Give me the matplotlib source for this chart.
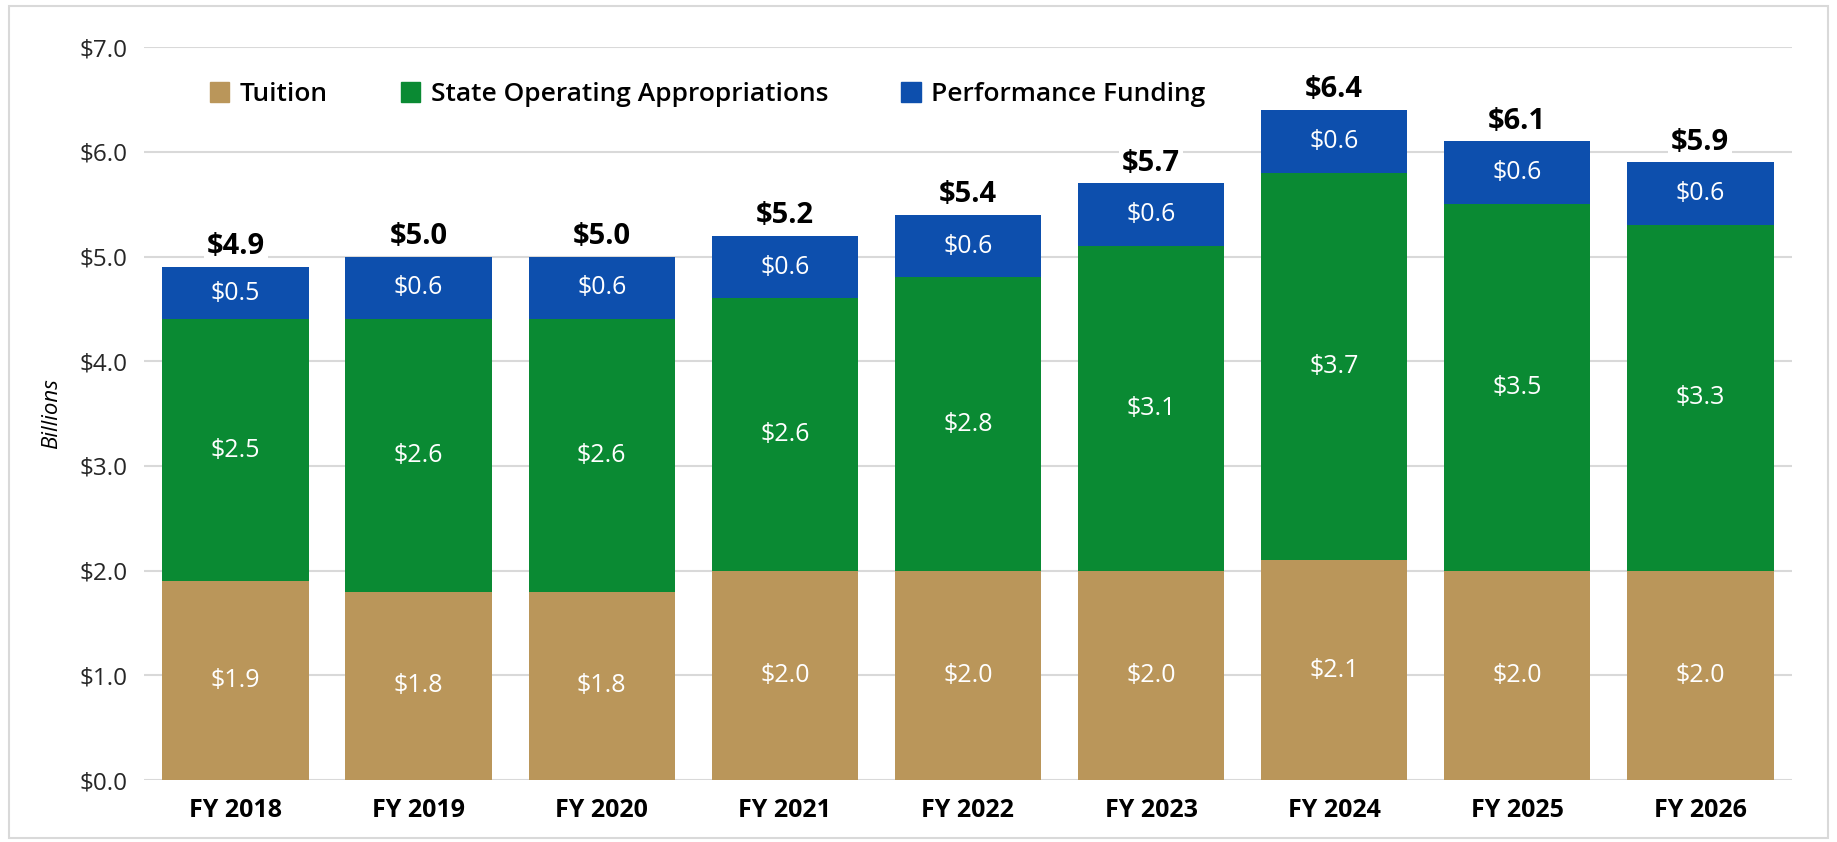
import matplotlib
matplotlib.use("Agg")
import matplotlib.pyplot as plt
from matplotlib.patches import Rectangle, Patch
import numpy as np

plt.rcParams['font.family'] = ['Open Sans', 'DejaVu Sans']

years = ["FY 2018", "FY 2019", "FY 2020", "FY 2021", "FY 2022", "FY 2023", "FY 2024", "FY 2025", "FY 2026"]
tuition = [1.9, 1.8, 1.8, 2.0, 2.0, 2.0, 2.1, 2.0, 2.0]
state_ops = [2.5, 2.6, 2.6, 2.6, 2.8, 3.1, 3.7, 3.5, 3.3]
performance = [0.5, 0.6, 0.6, 0.6, 0.6, 0.6, 0.6, 0.6, 0.6]
totals = [4.9, 5.0, 5.0, 5.2, 5.4, 5.7, 6.4, 6.1, 5.9]
yticks = [0, 1, 2, 3, 4, 5, 6, 7]

c_tuition = "#BA965A"
c_state = "#0A8A33"
c_perf = "#0D4FAD"

fig = plt.figure(figsize=(18.37, 8.42), dpi=100)
ax = fig.add_axes([0.0784, 0.0736, 0.897, 0.8704])

x = np.arange(len(years))
w = 0.80
b1 = ax.bar(x, tuition, w, color=c_tuition, label="Tuition", zorder=3)
b2 = ax.bar(x, state_ops, w, bottom=tuition, color=c_state, label="State Operating Appropriations", zorder=3)
bottom3 = np.array(tuition) + np.array(state_ops)
b3 = ax.bar(x, performance, w, bottom=bottom3, color=c_perf, label="Performance Funding", zorder=3)

for bars, vals in ((b1, tuition), (b2, state_ops), (b3, performance)):
    ax.bar_label(bars, labels=[f"${v:.1f}" for v in vals], label_type='center',
                 color='white', fontsize=18, zorder=4)

for xi, t in zip(x, totals):
    ax.annotate(f"${t:.1f}", (xi, t), xytext=(0, 4), textcoords='offset points',
                ha='center', va='bottom', fontsize=21, fontweight='bold', color='black',
                bbox=dict(boxstyle='square,pad=0.1', fc='white', ec='none'), zorder=5)

ax.set_xlim(-0.5, len(years) - 0.5)
ax.set_ylim(0, 7)
ax.set_yticks(yticks)
ax.set_yticklabels([f"${v:.1f}" for v in yticks], fontsize=17.5, color='#262626')
ax.set_xticks(x)
ax.set_xticklabels(years, fontsize=18, fontweight='bold', color='black')
ax.tick_params(axis='both', length=0)
ax.tick_params(axis='x', pad=13)
ax.tick_params(axis='y', pad=12)
for s in ax.spines.values():
    s.set_visible(False)
ax.grid(axis='y', color='#D9D9D9', linewidth=1.5, zorder=0)
ax.set_axisbelow(True)
ax.set_ylabel("Billions", fontsize=16, fontstyle='italic', labelpad=12)

handles = [Patch(color=c_tuition), Patch(color=c_state), Patch(color=c_perf)]
leg = ax.legend(handles, ["Tuition", "State Operating Appropriations", "Performance Funding"],
                loc='center', bbox_to_anchor=(0.342, 0.935), ncol=3, frameon=False,
                prop={'size': 19, 'weight': 'semibold'}, handlelength=0.75, handleheight=0.75,
                handletextpad=0.4, columnspacing=2.75)

fig.patches.append(Rectangle((0.005, 0.005), 0.99, 0.988, transform=fig.transFigure,
                             fill=False, ec='#D9D9D9', lw=1.5))

fig.savefig("out.png", dpi=100)
